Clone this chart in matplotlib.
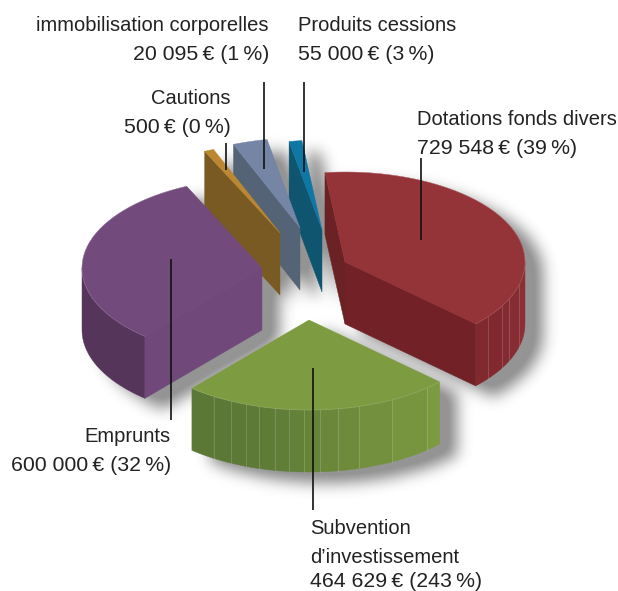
import numpy as np
import matplotlib
matplotlib.use('Agg')
import matplotlib.pyplot as plt
from matplotlib.colors import to_rgb
from matplotlib.path import Path
from matplotlib.patches import Polygon

# order: clockwise from the top, same as the pie
categories = [['Dotations fonds divers'], ['Subvention', 'd\u2019investissement'], ['Emprunts'],
              ['Cautions'], ['immobilisation corporelles'], ['Produits cessions']]
euros = ['729 548', '464 629', '600 000', '500', '20 095', '55 000']
percents = [39, 243, 32, 0, 1, 3]
# slice sizes as drawn in the picture, in % of the full turn
drawn_shares = [38.85, 24.2, 31.85, 0.85, 3.1, 1.15]

START_ANGLE = 96.4
RX, RY, DEPTH = 180, 90, 62

apex = [(345, 262), (309, 320), (262, 268), (280, 233), (300, 228), (322, 230)]
top_colors = ['#943338', '#7d9b40', '#724a7b', '#bb8730', '#7585a6', '#0f77a4']
start_face = ['#6b2224', None, '#704879', '#7a5a23', '#556376', '#0f5570']
end_face = ['#722226', None, None, None, None, None]
side_left = ['#80292f', '#5b7836', '#55355a', None, None, None]
side_right = ['#8c2f35', '#7c9a40', '#55355a', None, None, None]
# angles of the thin lines on the curved walls
strip_lines = [[-37.4, -29.3, -24.4, -14.8],
               [-122, -115.7, -110.5, -106, -101, -96.4, -91.6, -86.5, -80.7, -73.9, -62.5, -49],
               []]
draw_order = [5, 4, 3, 2, 0, 1]

label_pos = [(417, 125, 'left'), (310, 534, 'left'), (171, 442, 'right'),
             (231, 104, 'right'), (269, 31, 'right'), (298, 31, 'left')]
LINE_STEP = 29
leaders = [(421, 158, 240), (313, 368, 510), (170.5, 259, 420),
           (226, 143, 170), (263.5, 82, 169), (303.5, 82, 172)]

plt.rcParams['font.family'] = ['Liberation Sans', 'DejaVu Sans']
W, H = 618, 591


def rim(center, t):
    t = np.radians(t)
    return np.column_stack([center[0] + RX * np.cos(t), center[1] - RY * np.sin(t)])


def drop(points):
    return np.asarray(points) + [0, DEPTH]


def blur(img, sigma):
    x = np.arange(-int(3 * sigma), int(3 * sigma) + 1)
    kernel = np.exp(-x ** 2 / (2 * sigma ** 2))
    kernel /= kernel.sum()
    img = np.apply_along_axis(lambda r: np.convolve(r, kernel, mode='same'), 0, img)
    return np.apply_along_axis(lambda r: np.convolve(r, kernel, mode='same'), 1, img)


edges = START_ANGLE - np.cumsum([0] + drawn_shares) * 3.6
fig = plt.figure(figsize=(W / 100, H / 100), dpi=100)
ax = fig.add_axes([0, 0, 1, 1])

# drop shadow under the whole pie
gx, gy = np.meshgrid(np.arange(W) + 0.5, np.arange(H) + 0.5)
grid = np.column_stack([gx.ravel(), gy.ravel()])
mask = np.zeros((H, W))
for i in range(len(categories)):
    arc = rim(apex[i], np.linspace(edges[i], edges[i + 1], 80))
    top = np.vstack([apex[i], arc])
    inside = Path(top + [18, 11]).contains_points(grid).reshape(H, W)
    for dy in range(0, DEPTH + 1, 2):
        mask = np.maximum(mask, np.roll(inside, dy, axis=0))
shadow = np.zeros((H, W, 4))
shadow[..., 3] = np.clip(blur(mask, 7.5) * 1.15, 0, 1) * 0.42
ax.imshow(shadow, extent=(0, W, H, 0), zorder=0, interpolation='bilinear', aspect='auto')
ax.set_xlim(0, W)
ax.set_ylim(H, 0)
ax.axis('off')

z = 1
for i in draw_order:
    t0, t1 = edges[i], edges[i + 1]
    corner = np.array(apex[i], dtype=float)
    if side_left[i]:
        # curved wall, only the part turned to the viewer
        lo, hi = (-180, t0) if i == 2 else (t1, min(t0, 0))
        walls = [lo] + [a for a in strip_lines[i] if lo < a < hi] + [hi]
        c0 = np.array(to_rgb(side_left[i]))
        c1 = np.array(to_rgb(side_right[i]))
        for k in range(len(walls) - 1):
            arc = rim(corner, np.linspace(walls[k], walls[k + 1], 20))
            f = (k / max(len(walls) - 2, 1)) ** 2
            col = c0 + (c1 - c0) * f
            ax.add_patch(Polygon(np.vstack([arc, drop(arc)[::-1]]), closed=True, fc=col, ec=col, lw=0.3, zorder=z))
            z += 1
            if k > 0:
                ax.plot([arc[0, 0]] * 2, [arc[0, 1], arc[0, 1] + DEPTH], color='white', alpha=0.18, lw=0.6, zorder=z)
    for t, col in ((t0, start_face[i]), (t1, end_face[i])):
        if col:
            p = rim(corner, [t])[0]
            face = [corner, p, p + [0, DEPTH], corner + [0, DEPTH]]
            ax.add_patch(Polygon(face, closed=True, fc=col, ec=col, lw=0.3, zorder=z))
            z += 1
    arc = rim(corner, np.linspace(t0, t1, 120))
    top = np.vstack([corner, arc])
    ax.add_patch(Polygon(top, closed=True, fc=top_colors[i], ec=top_colors[i], lw=0.3, zorder=z))
    z += 1
    if side_left[i]:
        ax.plot(arc[:, 0], arc[:, 1], color='white', alpha=0.15, lw=0.6, zorder=z)
        z += 1

for (x, y0, y1) in leaders:
    ax.plot([x, x], [y0, y1], color='#111111', lw=1.2, solid_capstyle='butt', zorder=z)

for name, eur, pct, (x, y, ha) in zip(categories, euros, percents, label_pos):
    for line in name:
        ax.text(x, y, line, ha=ha, va='baseline', fontsize=14.5, color='#222222')
        y += LINE_STEP
    ax.text(x, min(y, 587), f'{eur}\u2009€ ({pct}\u2009%)', ha=ha, va='baseline', fontsize=15.3, color='#222222')

fig.savefig('out.png', dpi=100)
